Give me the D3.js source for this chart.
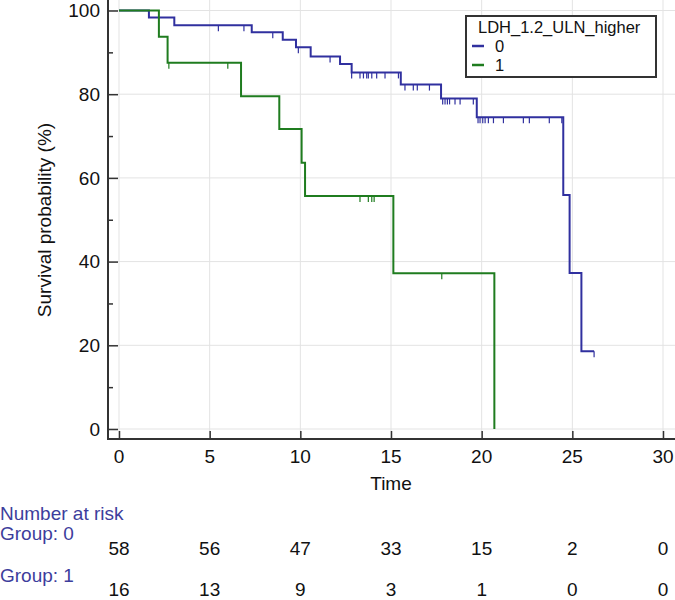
<!DOCTYPE html>
<html>
<head>
<meta charset="utf-8">
<script src="https://cdn.jsdelivr.net/npm/d3@7"></script>
<style>
  html, body { margin: 0; padding: 0; background: #fff; }
  svg { display: block; font-family: "Liberation Sans", Arial, Helvetica, sans-serif; }
</style>
</head>
<body>
<svg id="chart" width="675" height="600"></svg>
<script>
// ---- data ----
const xTicks = [0, 5, 10, 15, 20, 25, 30];
const yTicks = [0, 20, 40, 60, 80, 100];
const yMinorTicks = [10, 30, 50, 70, 90];

const group0Times = [0, 1.65, 3.05, 7.32, 9.03, 9.76, 10.57, 12.19, 12.83, 15.54, 17.76, 19.73, 24.5, 24.85, 25.5, 26.2];
const group0Surv  = [100, 98.3, 96.5, 94.8, 93.0, 91.2, 89.0, 87.2, 85.2, 82.3, 79.0, 74.5, 55.9, 37.3, 18.6, 18.6];
const group0Censor = [5.48, 6.89, 8.48, 9.89, 11.64, 12.83, 13.29, 13.48, 13.66, 13.75, 13.94, 14.21, 14.67,
  15.41, 15.77, 16.23, 16.45, 17.12, 17.85, 17.98, 18.11, 18.23, 18.53, 18.81, 19.54, 19.8, 19.91, 20.06,
  20.19, 20.37, 20.65, 21.2, 22.3, 22.63, 23.73, 24.42, 26.2];

const group1Times = [0, 2.2, 2.68, 6.73, 8.84, 10.07, 10.26, 15.13, 20.7];
const group1Surv  = [100, 93.7, 87.5, 79.5, 71.7, 63.6, 55.7, 37.2, 0];
const group1Censor = [2.75, 6.0, 13.29, 13.75, 13.94, 14.07, 17.8];

const groupNames = ["0", "1"];
const riskTimes = [0, 5, 10, 15, 20, 25, 30];
const risk0 = [58, 56, 47, 33, 15, 2, 0];
const risk1 = [16, 13, 9, 3, 1, 0, 0];

const legendTitle = "LDH_1.2_ULN_higher";
const xLabel = "Time";
const yLabel = "Survival probability (%)";

// ---- drawing ----
const colors = ["#30309f", "#1f7c1f"];
const svg = d3.select("#chart");
const x = d3.scaleLinear().domain([0, 30]).range([119, 663]);
const y = d3.scaleLinear().domain([0, 100]).range([429, 10.5]);
const axisX = 108, axisY = 439;

// grid
const grid = svg.append("g").attr("stroke", "#e3e3e3").attr("stroke-width", 1);
grid.selectAll("line.v").data(xTicks).join("line")
  .attr("x1", d => x(d)).attr("x2", d => x(d)).attr("y1", 0).attr("y2", axisY);
grid.selectAll("line.h").data(yTicks).join("line")
  .attr("y1", d => y(d)).attr("y2", d => y(d)).attr("x1", axisX).attr("x2", 675);

// axes
const yAxis = d3.axisRight(y).tickValues(yTicks).tickSize(10).tickFormat("");
const gy = svg.append("g").attr("transform", `translate(${axisX},0)`).call(yAxis);
const yAxisMinor = d3.axisRight(y).tickValues(yMinorTicks).tickSize(5).tickFormat("");
const gym = svg.append("g").attr("transform", `translate(${axisX},0)`).call(yAxisMinor);
[gy, gym].forEach(g => {
  g.select(".domain").remove();
  g.selectAll(".tick line").attr("stroke", "#333").attr("stroke-width", 1.5);
});
const xAxis = d3.axisTop(x).tickValues(xTicks).tickSize(8).tickFormat("");
const gx = svg.append("g").attr("transform", `translate(0,${axisY})`).call(xAxis);
gx.select(".domain").remove();
gx.selectAll(".tick line").attr("stroke", "#333").attr("stroke-width", 1.5);

svg.append("line").attr("x1", axisX).attr("x2", axisX).attr("y1", 0).attr("y2", axisY + 1)
  .attr("stroke", "#333").attr("stroke-width", 2);
svg.append("line").attr("x1", axisX - 1).attr("x2", 675).attr("y1", axisY).attr("y2", axisY)
  .attr("stroke", "#333").attr("stroke-width", 2);

// tick labels
svg.append("g").selectAll("text").data(yTicks).join("text")
  .attr("x", 100).attr("y", d => y(d)).attr("dy", "0.35em")
  .attr("text-anchor", "end").attr("font-size", 19).attr("fill", "#111").text(d => d);
svg.append("g").selectAll("text").data(xTicks).join("text")
  .attr("x", d => x(d)).attr("y", 456).attr("dy", "0.35em")
  .attr("text-anchor", "middle").attr("font-size", 19).attr("fill", "#111").text(d => d);

svg.append("text").attr("x", 391).attr("y", 483).attr("dy", "0.35em")
  .attr("text-anchor", "middle").attr("font-size", 19).attr("fill", "#111").text(xLabel);
svg.append("text").attr("transform", "translate(44,220) rotate(-90)").attr("dy", "0.35em")
  .attr("text-anchor", "middle").attr("font-size", 19).attr("fill", "#111").text(yLabel);

// curves
const groups = [
  { times: group0Times, surv: group0Surv, censor: group0Censor },
  { times: group1Times, surv: group1Surv, censor: group1Censor }
];
const line = d3.line().x(d => x(d[0])).y(d => y(d[1])).curve(d3.curveStepAfter);
function survAt(g, t) {
  let v = g.surv[0];
  for (let i = 0; i < g.times.length; i++) if (g.times[i] <= t) v = g.surv[i];
  return v;
}
groups.forEach((g, i) => {
  const pts = g.times.map((t, k) => [t, g.surv[k]]);
  svg.append("path").datum(pts).attr("d", line)
    .attr("fill", "none").attr("stroke", colors[i]).attr("stroke-width", 2);
  svg.append("g").selectAll("line").data(g.censor).join("line")
    .attr("x1", d => x(d)).attr("x2", d => x(d))
    .attr("y1", d => y(survAt(g, d))).attr("y2", d => y(survAt(g, d)) + 6)
    .attr("stroke", colors[i]).attr("stroke-width", 1.2);
});

// legend
const lg = svg.append("g");
lg.append("rect").attr("x", 466).attr("y", 16).attr("width", 190).attr("height", 61)
  .attr("fill", "#fff").attr("stroke", "#333").attr("stroke-width", 2);
lg.append("text").attr("x", 478).attr("y", 27).attr("dy", "0.35em")
  .attr("font-size", 16.5).attr("fill", "#111").text(legendTitle);
groupNames.forEach((n, i) => {
  const yy = 46 + i * 19;
  lg.append("line").attr("x1", 472).attr("x2", 484).attr("y1", yy).attr("y2", yy)
    .attr("stroke", colors[i]).attr("stroke-width", 2.5);
  lg.append("text").attr("x", 495).attr("y", yy).attr("dy", "0.35em")
    .attr("font-size", 16.5).attr("fill", "#111").text(n);
});

// number at risk
const riskColor = "#3d3d9c";
svg.append("text").attr("x", 0).attr("y", 513).attr("dy", "0.35em")
  .attr("font-size", 19).attr("fill", riskColor).text("Number at risk");
[[risk0, 533, 548], [risk1, 575, 589]].forEach(([vals, ly, vy], i) => {
  svg.append("text").attr("x", 0).attr("y", ly).attr("dy", "0.35em")
    .attr("font-size", 19).attr("fill", riskColor).text("Group: " + groupNames[i]);
  svg.append("g").selectAll("text").data(vals).join("text")
    .attr("x", (d, k) => x(riskTimes[k])).attr("y", vy).attr("dy", "0.35em")
    .attr("text-anchor", "middle").attr("font-size", 19).attr("fill", "#111").text(d => d);
});
</script>
</body>
</html>
